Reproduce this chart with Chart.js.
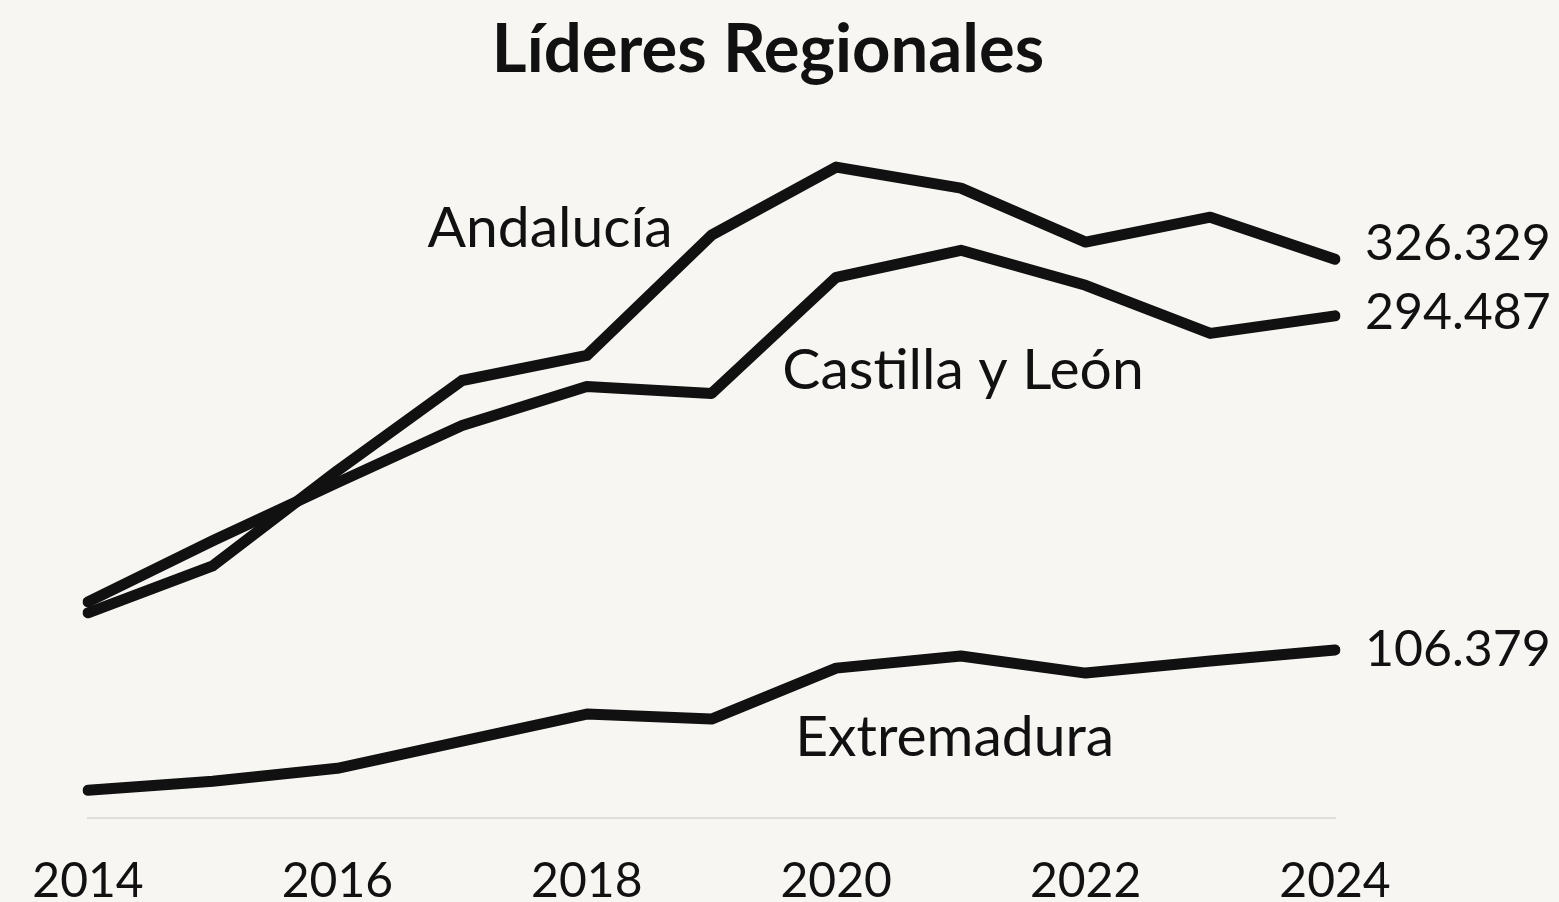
<!DOCTYPE html>
<html>
<head>
<meta charset="utf-8">
<script src="https://cdn.jsdelivr.net/npm/chart.js@4.4.1/dist/chart.umd.min.js"></script>
<style>
    html, body { margin: 0; padding: 0; background: #f7f6f2; }
    #wrap { width: 1559px; height: 902px; }
</style>
</head>
<body>
<div id="wrap"><canvas id="chart"></canvas></div>
<script>
const years = ['2014', '2015', '2016', '2017', '2018', '2019', '2020', '2021', '2022', '2023', '2024'];
const andalucia = [127.3, 153.8, 207.3, 258.1, 272.2, 339.9, 378.2, 366.4, 336.0, 350.0, 326.329];
const castilla = [133.5, 167.9, 200.6, 232.7, 254.7, 250.8, 316.2, 331.4, 311.7, 284.6, 294.487];
const extremadura = [27.4, 32.5, 39.8, 55.1, 70.3, 67.5, 96.2, 103.0, 93.4, 100.2, 106.379];
const endLabels = ['326.329', '294.487', '106.379'];
const seriesNames = ['Andalucía', 'Castilla y León', 'Extremadura'];

const INK = '#111111';

// titles, inline names and end values
const textPlugin = {
    id: 'texts',
    afterDatasetsDraw(chart) {
        const { ctx, scales: { x, y } } = chart;
        ctx.save();
        ctx.fillStyle = INK;
        ctx.textAlign = 'center';
        ctx.textBaseline = 'alphabetic';
        ctx.font = 'bold 67px Lato';
        ctx.fillText('Líderes Regionales', 768, 72);

        // series names next to their lines
        ctx.font = '57px Lato';
        ctx.textBaseline = 'middle';
        const namePos = [[3.705, 343.8], [7.017, 263.7], [6.95, 56.8]];
        seriesNames.forEach((name, i) => {
            ctx.fillText(name, x.getPixelForValue(namePos[i][0]), y.getPixelForValue(namePos[i][1]));
        });

        // last values on the right
        ctx.font = '50px Lato';
        ctx.textAlign = 'left';
        const last = years.length - 1;
        const shifts = [-15, -3, 0];
        [andalucia, castilla, extremadura].forEach((arr, i) => {
            const px = x.getPixelForValue(last) + 30;
            const py = y.getPixelForValue(arr[last]) + shifts[i];
            ctx.fillText(endLabels[i], px, py);
        });
        ctx.restore();
    }
};

function lineSet(label, data) {
    return {
        label: label,
        data: data,
        borderColor: INK,
        borderWidth: 11,
        borderCapStyle: 'round',
        borderJoinStyle: 'round',
        pointRadius: 0,
        tension: 0,
        fill: false
    };
}

new Chart(document.getElementById('chart'), {
    type: 'line',
    data: {
        labels: years,
        datasets: [
            lineSet(seriesNames[0], andalucia),
            lineSet(seriesNames[1], castilla),
            lineSet(seriesNames[2], extremadura)
        ]
    },
    options: {
        responsive: true,
        maintainAspectRatio: false,
        animation: false,
        layout: {
            padding: { top: 130, bottom: -34, left: 88, right: 224 }
        },
        scales: {
            x: {
                offset: false,
                grid: { display: false },
                border: { display: true, color: '#dedede', width: 2 },
                ticks: {
                    color: INK,
                    font: { family: 'Lato', size: 48 },
                    padding: 26,
                    autoSkip: false,
                    maxRotation: 0,
                    callback: function(value, index) {
                        return index % 2 === 0 ? years[index] : '';
                    }
                }
            },
            y: {
                display: false,
                min: 11.6,
                max: 399.1
            }
        },
        plugins: {
            legend: { display: false },
            tooltip: { enabled: false },
            title: { display: false }
        }
    },
    plugins: [textPlugin]
});
</script>
</body>
</html>
